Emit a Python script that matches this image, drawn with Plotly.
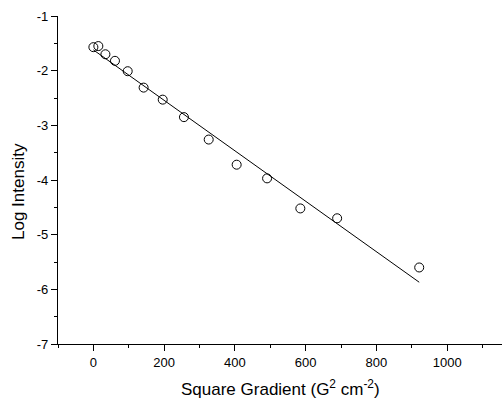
import plotly.graph_objects as go

# Data
sq_gradient = [0, 14, 34, 61, 97, 142, 196, 256, 326, 405, 491, 585, 689, 921]
log_intensity = [-1.57, -1.55, -1.70, -1.82, -2.01, -2.31, -2.53, -2.85, -3.26,
                 -3.72, -3.97, -4.52, -4.70, -5.60]

fit_x = [0, 921]
fit_y = [-1.62, -5.87]

x_tickvals = [0, 200, 400, 600, 800, 1000]
x_ticktext = ["0", "200", "400", "600", "800", "1000"]
y_tickvals = [-1, -2, -3, -4, -5, -6, -7]
y_ticktext = ["-1", "-2", "-3", "-4", "-5", "-6", "-7"]

fig = go.Figure()
fig.add_trace(go.Scatter(x=fit_x, y=fit_y, mode="lines",
                         line=dict(color="black", width=1), showlegend=False))
fig.add_trace(go.Scatter(x=sq_gradient, y=log_intensity, mode="markers",
                         marker=dict(symbol="circle-open", size=9,
                                     color="black", line=dict(width=1)),
                         showlegend=False))

font = "Liberation Sans, Arial, sans-serif"
fig.update_layout(
    width=503, height=402,
    margin=dict(l=58, r=1, t=16, b=58),
    paper_bgcolor="white", plot_bgcolor="white",
    font=dict(family=font, color="black"),
    xaxis=dict(range=[-100, 1155], showgrid=False, zeroline=False,
               showline=True, linecolor="black", linewidth=1.2,
               ticks="outside", ticklen=6, tickwidth=1.2, tickcolor="black",
               tickvals=x_tickvals, ticktext=x_ticktext,
               tickfont=dict(size=13, family=font),
               minor=dict(dtick=100, tick0=0, ticks="outside", ticklen=3,
                          tickwidth=1.2, tickcolor="black")),
    yaxis=dict(range=[-7, -1], showgrid=False, zeroline=False,
               showline=True, linecolor="black", linewidth=1.2,
               ticks="outside", ticklen=6, tickwidth=1.2, tickcolor="black",
               tickvals=y_tickvals, ticktext=y_ticktext,
               tickfont=dict(size=13, family=font),
               minor=dict(dtick=0.5, tick0=-1, ticks="outside", ticklen=3,
                          tickwidth=1.2, tickcolor="black")),
    annotations=[
        dict(text="Square Gradient (G<sup>2</sup> cm<sup>-2</sup>)",
             xref="paper", yref="paper", x=0.5, y=0, yshift=-44,
             xanchor="center", yanchor="middle", showarrow=False,
             font=dict(size=17, family=font)),
        dict(text="Log Intensity", textangle=-90,
             xref="paper", yref="paper", x=0, y=0.5, xshift=-40, yshift=-12,
             xanchor="center", yanchor="middle", showarrow=False,
             font=dict(size=17, family=font)),
    ],
)

fig.write_html("out.html")
